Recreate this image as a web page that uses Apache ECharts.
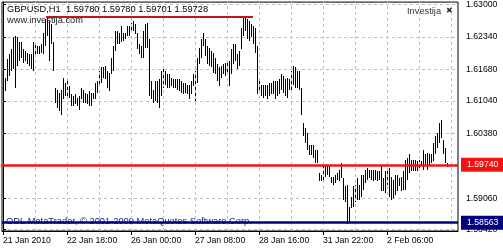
<!DOCTYPE html>
<html><head><meta charset="utf-8">
<script src="https://cdn.jsdelivr.net/npm/echarts@6/dist/echarts.min.js"></script>
<style>html,body{margin:0;padding:0;background:#fff}#c{width:503px;height:250px}</style>
</head><body><div id="c"></div>
<script>
const symbolName = 'GBPUSD,H1';
const lastBarOHLC = [1.59780, 1.59780, 1.59701, 1.59728];
const highs = [
1.6168,1.6151,1.6189,1.6199,1.6209,1.6233,1.6235,1.6233,1.6223,1.6223,
1.6209,1.6206,1.6202,1.6199,1.6199,1.6223,1.6219,1.6216,1.6216,1.6219,
1.6243,1.6270,1.6277,1.6267,1.6260,1.6223,1.6131,1.6127,1.6120,1.6127,
1.6151,1.6141,1.6148,1.6134,1.6117,1.6114,1.6117,1.6110,1.6114,1.6131,
1.6127,1.6120,1.6117,1.6124,1.6120,1.6120,1.6141,1.6144,1.6165,1.6172,
1.6172,1.6175,1.6165,1.6161,1.6192,1.6216,1.6246,1.6246,1.6243,1.6257,
1.6243,1.6243,1.6257,1.6257,1.6263,1.6267,1.6260,1.6243,1.6219,1.6216,
1.6246,1.6260,1.6263,1.6229,1.6144,1.6127,
1.6144,1.6144,1.6148,1.6165,1.6172,1.6165,1.6158,1.6158,1.6151,1.6148,
1.6148,1.6148,1.6148,1.6144,1.6141,1.6141,1.6137,1.6137,1.6144,1.6158,
1.6165,1.6192,1.6212,1.6229,1.6243,1.6229,1.6216,1.6212,1.6206,1.6202,
1.6192,1.6178,1.6172,1.6175,1.6178,1.6182,1.6182,1.6185,1.6209,1.6219,
1.6219,1.6199,1.6206,1.6253,1.6274,1.6274,1.6270,1.6267,1.6260,1.6257,
1.6253,1.6216,1.6148,1.6137,1.6137,1.6137,1.6137,1.6141,1.6141,1.6144,
1.6144,1.6144,1.6148,1.6158,1.6154,1.6148,1.6151,1.6148,1.6165,1.6175,
1.6172,1.6165,1.6165,1.6131,1.6059,
1.6049,1.6039,1.6015,1.6015,1.6015,1.6005,1.6005,1.5957,1.5954,1.5971,
1.5974,1.5974,1.5974,1.5950,1.5950,1.5954,1.5957,1.5964,1.5978,1.5947,
1.5930,1.5933,1.5889,1.5909,1.5930,1.5933,1.5947,1.5933,1.5954,1.5954,
1.5964,1.5967,1.5964,1.5964,1.5964,1.5964,1.5961,1.5961,1.5974,1.5947,
1.5961,1.5964,1.5967,1.5950,1.5943,1.5954,1.5954,1.5947,1.5950,1.5961,
1.5984,1.5988,1.5995,1.5984,1.5984,1.5984,1.5981,1.5984,1.5981,1.6005,
1.5995,1.5998,1.5995,1.5995,1.6018,1.6032,1.6039,1.6059,1.6066,1.6025,
1.6008,1.5978
];
const lows = [
1.6127,1.6124,1.6144,1.6154,1.6165,1.6168,1.6131,1.6175,1.6185,1.6192,
1.6182,1.6185,1.6178,1.6175,1.6168,1.6165,1.6195,1.6199,1.6199,1.6202,
1.6199,1.6216,1.6236,1.6185,1.6219,1.6165,1.6100,1.6090,1.6083,1.6076,
1.6107,1.6114,1.6114,1.6110,1.6093,1.6093,1.6097,1.6093,1.6086,1.6107,
1.6100,1.6100,1.6097,1.6093,1.6093,1.6107,1.6107,1.6120,1.6134,1.6141,
1.6151,1.6148,1.6131,1.6124,1.6158,1.6165,1.6206,1.6219,1.6219,1.6223,
1.6226,1.6229,1.6236,1.6236,1.6243,1.6246,1.6240,1.6209,1.6199,1.6192,
1.6192,1.6212,1.6212,1.6114,1.6107,1.6100,
1.6103,1.6100,1.6090,1.6114,1.6131,1.6137,1.6131,1.6131,1.6134,1.6131,
1.6131,1.6127,1.6124,1.6120,1.6117,1.6120,1.6117,1.6107,1.6117,1.6134,
1.6103,1.6141,1.6178,1.6192,1.6216,1.6195,1.6178,1.6175,1.6172,1.6161,
1.6158,1.6144,1.6134,1.6151,1.6158,1.6154,1.6158,1.6134,1.6158,1.6178,
1.6185,1.6168,1.6175,1.6209,1.6236,1.6246,1.6229,1.6226,1.6233,1.6219,
1.6202,1.6117,1.6120,1.6114,1.6110,1.6114,1.6107,1.6114,1.6117,1.6117,
1.6107,1.6114,1.6117,1.6127,1.6120,1.6114,1.6110,1.6127,1.6127,1.6137,
1.6131,1.6131,1.6127,1.6076,1.6032,
1.6018,1.6005,1.5994,1.5994,1.5988,1.5978,1.5978,1.5940,1.5940,1.5937,
1.5950,1.5954,1.5950,1.5937,1.5933,1.5937,1.5943,1.5940,1.5947,1.5903,
1.5899,1.5853,1.5858,1.5886,1.5889,1.5899,1.5903,1.5903,1.5909,1.5923,
1.5937,1.5943,1.5947,1.5943,1.5940,1.5943,1.5940,1.5943,1.5920,1.5920,
1.5916,1.5933,1.5909,1.5903,1.5906,1.5913,1.5920,1.5930,1.5920,1.5923,
1.5923,1.5943,1.5957,1.5961,1.5961,1.5961,1.5961,1.5967,1.5971,1.5964,
1.5971,1.5964,1.5974,1.5978,1.5981,1.5995,1.6008,1.6018,1.6029,1.5995,
1.5978,1.5970
];
const yTickValues = [1.63000, 1.62340, 1.61680, 1.61040, 1.60380, 1.59740, 1.59060, 1.58420];
const xTickIndex = [0, 32, 64, 96, 128, 160, 192];
const xTickLabels = ['21 Jan 2010', '22 Jan 18:00', '26 Jan 00:00', '27 Jan 08:00', '28 Jan 16:00', '31 Jan 22:00', '2 Feb 06:00'];
const xGridIndex = [16, 32, 48, 64, 80, 96, 112, 128, 144, 160, 176, 192, 208, 224];
const supportLevel = 1.59740;
const lowLevel = 1.58563;
const resistanceLevel = 1.6275;
const resistanceSpan = [21.5, 125];

const X_MIN = -0.5, X_MAX = 227.5;
const bars = highs.map((h, i) => [i, lows[i], h]);
const FONT = 'Liberation Sans';
const levelLine = (value, color) => [
  {coord: [X_MIN, value], lineStyle: {color: color, type: 'solid', width: 2.5},
   label: {show: true, position: 'end', distance: 3, formatter: value.toFixed(5), color: '#fff',
     backgroundColor: color, padding: [3, 10, 2, 6], fontSize: 8.7, fontFamily: FONT}},
  {coord: [X_MAX, value]}
];
const chart = echarts.init(document.getElementById('c'), null, {renderer: 'canvas'});
chart.setOption({
  animation: false,
  backgroundColor: '#fff',
  grid: {left: 2, right: 45, top: 2, bottom: 19, show: true, borderColor: '#000', borderWidth: 1, backgroundColor: 'transparent'},
  xAxis: {
    type: 'value', min: X_MIN, max: X_MAX,
    axisLine: {show: true, lineStyle: {color: '#000', width: 1}},
    axisTick: {show: true, customValues: xTickIndex, length: 4, lineStyle: {color: '#000'}},
    axisLabel: {customValues: xTickIndex, formatter: v => xTickLabels[xTickIndex.indexOf(v)] || '',
      align: 'left', margin: 5, color: '#000', fontSize: 8.7, fontFamily: FONT},
    splitLine: {show: false}
  },
  yAxis: {
    type: 'value', position: 'right', min: 1.58393, max: 1.63049,
    axisLine: {show: true, lineStyle: {color: '#000', width: 1}},
    axisTick: {show: true, customValues: yTickValues, length: 3, lineStyle: {color: '#000'}},
    axisLabel: {customValues: yTickValues, formatter: v => v.toFixed(5), color: '#000', fontSize: 8.7, fontFamily: FONT, margin: 8},
    splitLine: {show: true, lineStyle: {color: '#c0c0c0', type: [3, 3], width: 1}}
  },
  series: [{
    type: 'custom',
    data: bars,
    encode: {x: 0, y: [1, 2]},
    renderItem: (params, api) => {
      const top = api.coord([api.value(0), api.value(2)]);
      const bot = api.coord([api.value(0), api.value(1)]);
      const y0 = Math.round(top[1]);
      const h = Math.max(1, Math.round(bot[1]) - y0);
      return {type: 'rect', shape: {x: Math.round(top[0]), y: y0, width: 1, height: h}, style: {fill: '#000'}};
    },
    z: 3,
    markLine: {
      silent: true, symbol: 'none', animation: false,
      label: {show: false},
      data: [
        ...xGridIndex.map(v => ({xAxis: v, lineStyle: {color: '#c0c0c0', type: [3, 3], width: 1}})),
        levelLine(supportLevel, '#f21414'),
        levelLine(lowLevel, '#000080'),
        [{coord: [resistanceSpan[0], resistanceLevel], lineStyle: {color: '#c01818', type: 'solid', width: 2}},
         {coord: [resistanceSpan[1], resistanceLevel]}]
      ]
    }
  }],
  graphic: [
    {type: 'text', left: 7, top: 5, z: 10, style: {text: symbolName + '  ' + lastBarOHLC.map(v => v.toFixed(5)).join(' '), fill: '#000', font: '9.3px "Liberation Sans"'}},
    {type: 'text', left: 7, top: 16, z: 10, style: {text: 'www.investija.com', fill: '#222', font: '9.3px "Liberation Sans"'}},
    {type: 'text', left: 407, top: 7, z: 10, style: {text: 'Investija', fill: '#333', font: '9.3px "Liberation Sans"'}},
    {type: 'text', left: 446, top: 7, z: 10, style: {text: '✖', fill: '#333', font: '8px "DejaVu Sans"'}},
    {type: 'text', left: 6, top: 217, z: 1, style: {text: 'ODL MetaTrader, © 2001-2009 MetaQuotes Software Corp.', fill: '#1c1c6e', font: '9.3px "Liberation Sans"'}}
  ]
});
</script></body></html>
